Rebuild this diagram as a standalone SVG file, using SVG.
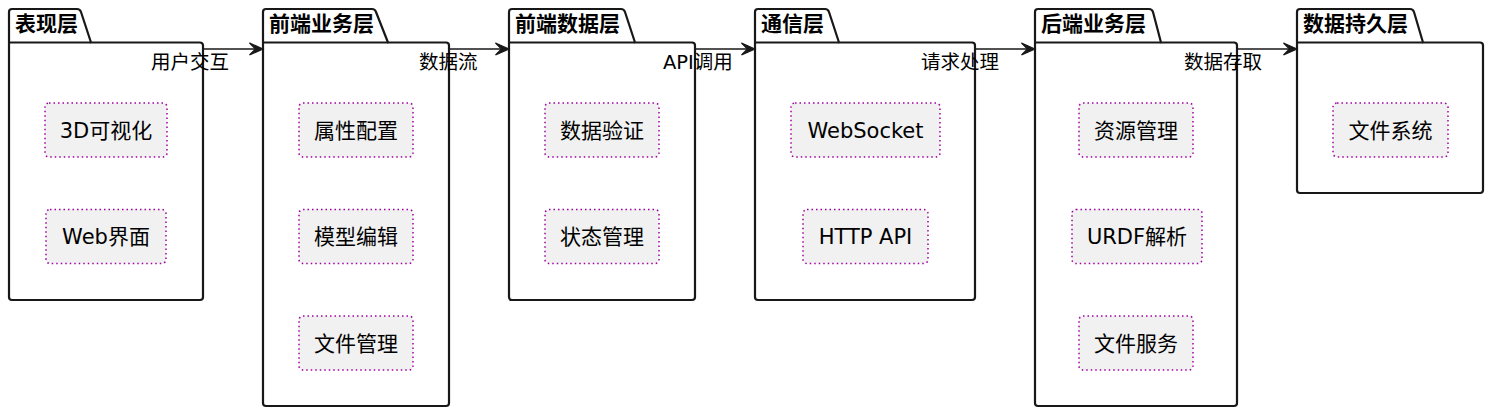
<svg xmlns="http://www.w3.org/2000/svg" width="1492" height="415" viewBox="0 0 1492 415">
<style>
.pkg{fill:#FFFFFF;stroke:#181818;stroke-width:2.2;stroke-linejoin:round}
.tabline{fill:none;stroke:#181818;stroke-width:2.2}
.title{font-family:"DejaVu Sans","Noto Sans CJK SC",sans-serif;font-size:21px;font-weight:bold;fill:#000000}
.node{fill:#F1F1F1;stroke:#A000A0;stroke-width:1.5;stroke-dasharray:1.5 3}
.ntext{font-family:"DejaVu Sans","Noto Sans CJK SC",sans-serif;font-size:21px;fill:#000000;text-anchor:middle}
.link{stroke:#181818;stroke-width:1.6;fill:none}
.head{fill:#181818;stroke:#181818;stroke-width:1.2;stroke-linejoin:miter}
.ltext{font-family:"DejaVu Sans","Noto Sans CJK SC",sans-serif;font-size:19.5px;fill:#000000}
</style>
<rect width="1492" height="415" fill="#FFFFFF"/>

<g id="pkg-presentation">
<path class="pkg" d="M9,12 A3,3 0 0 1 12,9 L77,9 Q80,9 81,12 L91,42.5 L200,42.5 A3,3 0 0 1 203,45.5 L203,297 A3,3 0 0 1 200,300 L12,300 A3,3 0 0 1 9,297 Z"/>
<path class="tabline" d="M9,42.5 L91,42.5"/>
<text class="title" x="15" y="31">表现层</text>
<g id="node-3d"><rect class="node" x="45" y="103" width="122" height="54" rx="4"/><text class="ntext" x="106" y="138">3D可视化</text></g>
<g id="node-web"><rect class="node" x="46" y="209.5" width="120" height="54" rx="4"/><text class="ntext" x="106" y="244">Web界面</text></g>
</g>

<g id="pkg-frontend-business">
<path class="pkg" d="M263,12 A3,3 0 0 1 266,9 L372,9 Q375,9 376,12 L388,42.5 L446,42.5 A3,3 0 0 1 449,45.5 L449,403 A3,3 0 0 1 446,406 L266,406 A3,3 0 0 1 263,403 Z"/>
<path class="tabline" d="M263,42.5 L388,42.5"/>
<text class="title" x="269" y="31">前端业务层</text>
<g id="node-prop"><rect class="node" x="299" y="103" width="114" height="54" rx="4"/><text class="ntext" x="356" y="138">属性配置</text></g>
<g id="node-model"><rect class="node" x="299" y="209.5" width="114" height="54" rx="4"/><text class="ntext" x="356" y="244">模型编辑</text></g>
<g id="node-filemgr"><rect class="node" x="299" y="316" width="114" height="54" rx="4"/><text class="ntext" x="356" y="351">文件管理</text></g>
</g>

<g id="pkg-frontend-data">
<path class="pkg" d="M509,12 A3,3 0 0 1 512,9 L621,9 Q624,9 625,12 L635,42.5 L692,42.5 A3,3 0 0 1 695,45.5 L695,297 A3,3 0 0 1 692,300 L512,300 A3,3 0 0 1 509,297 Z"/>
<path class="tabline" d="M509,42.5 L635,42.5"/>
<text class="title" x="515" y="31">前端数据层</text>
<g id="node-validate"><rect class="node" x="545" y="103" width="114" height="54" rx="4"/><text class="ntext" x="602" y="138">数据验证</text></g>
<g id="node-state"><rect class="node" x="545" y="209.5" width="114" height="54" rx="4"/><text class="ntext" x="602" y="244">状态管理</text></g>
</g>

<g id="pkg-communication">
<path class="pkg" d="M755,12 A3,3 0 0 1 758,9 L825,9 Q828,9 829,12 L839,42.5 L972,42.5 A3,3 0 0 1 975,45.5 L975,297 A3,3 0 0 1 972,300 L758,300 A3,3 0 0 1 755,297 Z"/>
<path class="tabline" d="M755,42.5 L839,42.5"/>
<text class="title" x="761" y="31">通信层</text>
<g id="node-ws"><rect class="node" x="791" y="103" width="149" height="54" rx="4"/><text class="ntext" x="865.5" y="138">WebSocket</text></g>
<g id="node-http"><rect class="node" x="803" y="209.5" width="125" height="54" rx="4"/><text class="ntext" x="865.5" y="244">HTTP API</text></g>
</g>

<g id="pkg-backend-business">
<path class="pkg" d="M1035,12 A3,3 0 0 1 1038,9 L1149,9 Q1152,9 1153,12 L1161,42.5 L1234,42.5 A3,3 0 0 1 1237,45.5 L1237,403 A3,3 0 0 1 1234,406 L1038,406 A3,3 0 0 1 1035,403 Z"/>
<path class="tabline" d="M1035,42.5 L1161,42.5"/>
<text class="title" x="1041" y="31">后端业务层</text>
<g id="node-res"><rect class="node" x="1079" y="103" width="114" height="54" rx="4"/><text class="ntext" x="1136" y="138">资源管理</text></g>
<g id="node-urdf"><rect class="node" x="1072" y="209.5" width="130" height="54" rx="4"/><text class="ntext" x="1137" y="244">URDF解析</text></g>
<g id="node-filesvc"><rect class="node" x="1079" y="316" width="114" height="54" rx="4"/><text class="ntext" x="1136" y="351">文件服务</text></g>
</g>

<g id="pkg-persistence">
<path class="pkg" d="M1297,12 A3,3 0 0 1 1300,9 L1410,9 Q1413,9 1414,12 L1423,42.5 L1480,42.5 A3,3 0 0 1 1483,45.5 L1483,190 A3,3 0 0 1 1480,193 L1300,193 A3,3 0 0 1 1297,190 Z"/>
<path class="tabline" d="M1297,42.5 L1423,42.5"/>
<text class="title" x="1303" y="31">数据持久层</text>
<g id="node-fs"><rect class="node" x="1333" y="103" width="115" height="54" rx="4"/><text class="ntext" x="1390.5" y="138">文件系统</text></g>
</g>

<g id="connectors">
<path class="link" d="M203,49 L257,49"/>
<polygon class="head" points="263,49 249.5,43 255.5,49 249.5,55"/>
<text class="ltext" x="151" y="69">用户交互</text>
<path class="link" d="M449,49 L503,49"/>
<polygon class="head" points="509,49 495.5,43 501.5,49 495.5,55"/>
<text class="ltext" x="419" y="69">数据流</text>
<path class="link" d="M695,49 L749,49"/>
<polygon class="head" points="755,49 741.5,43 747.5,49 741.5,55"/>
<text class="ltext" x="663" y="69">API调用</text>
<path class="link" d="M975,49 L1029,49"/>
<polygon class="head" points="1035,49 1021.5,43 1027.5,49 1021.5,55"/>
<text class="ltext" x="921" y="69">请求处理</text>
<path class="link" d="M1237,49 L1291,49"/>
<polygon class="head" points="1297,49 1283.5,43 1289.5,49 1283.5,55"/>
<text class="ltext" x="1184" y="69">数据存取</text>
</g>
</svg>
